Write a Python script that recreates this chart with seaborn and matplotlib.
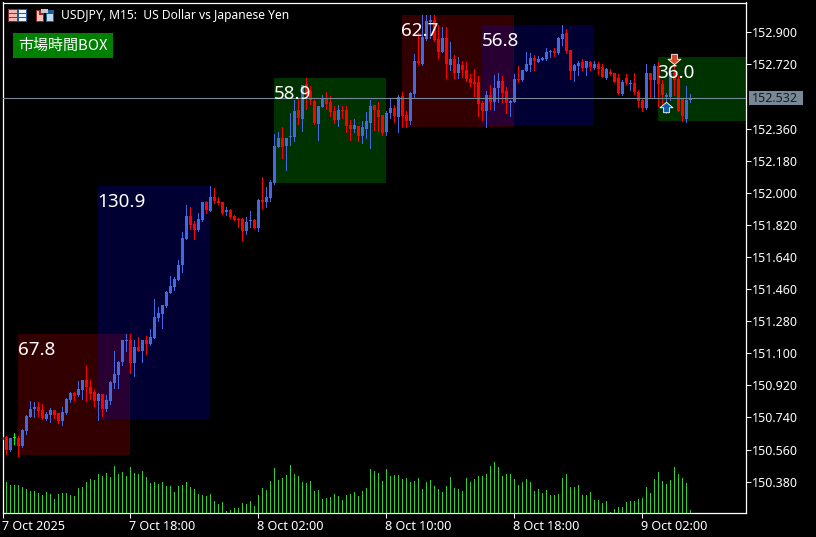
"""USDJPY M15 candle chart with session boxes, black MT5 style."""
import numpy as np
import pandas as pd
import matplotlib
matplotlib.use("Agg")
import matplotlib.pyplot as plt
import seaborn as sns
from matplotlib.patches import Rectangle
from matplotlib.path import Path
from matplotlib.transforms import IdentityTransform, ScaledTranslation

# --- values ---
HIGH = [150.630, 150.636, 150.625, 150.653, 150.636, 150.675, 150.754, 150.832, 150.827, 150.827,
        150.815, 150.770, 150.793, 150.782, 150.765, 150.799, 150.849, 150.883, 150.883, 150.944,
        150.950, 151.028, 150.950, 150.894, 150.877, 150.871, 150.866, 150.944, 151.112, 151.056,
        151.174, 151.208, 151.208, 151.174, 151.191, 151.174, 151.197, 151.236, 151.404, 151.359,
        151.370, 151.449, 151.533, 151.527, 151.623, 151.780, 151.931, 151.920, 151.841, 151.886,
        151.948, 151.954, 152.038, 152.026, 151.976, 151.948, 151.920, 151.909, 151.875, 151.858,
        151.858, 151.864, 151.897, 151.853, 151.965, 152.088, 152.032, 152.071, 152.329, 152.340,
        152.368, 152.307, 152.447, 152.520, 152.525, 152.604, 152.643, 152.598, 152.520, 152.486,
        152.548, 152.565, 152.542, 152.486, 152.492, 152.486, 152.486, 152.408, 152.413, 152.374,
        152.402, 152.452, 152.520, 152.492, 152.509, 152.436, 152.458, 152.531, 152.492, 152.548,
        152.565, 152.458, 152.565, 152.778, 152.895, 152.996, 152.996, 152.996, 152.996, 152.940,
        152.929, 152.929, 152.845, 152.772, 152.761, 152.739, 152.733, 152.666, 152.694, 152.654,
        152.514, 152.570, 152.604, 152.660, 152.671, 152.654, 152.593, 152.520, 152.666, 152.711,
        152.688, 152.789, 152.783, 152.772, 152.767, 152.761, 152.811, 152.800, 152.811, 152.873,
        152.940, 152.918, 152.800, 152.722, 152.739, 152.750, 152.739, 152.739, 152.739, 152.733,
        152.722, 152.699, 152.694, 152.671, 152.666, 152.632, 152.666, 152.632, 152.671, 152.576,
        152.531, 152.722, 152.671, 152.722, 152.733, 152.632, 152.559, 152.688, 152.711, 152.654,
        152.531, 152.598, 152.553]
LOW = [150.619, 150.535, 150.552, 150.591, 150.524, 150.574, 150.647, 150.742, 150.742, 150.748,
       150.731, 150.726, 150.714, 150.737, 150.709, 150.698, 150.759, 150.827, 150.838, 150.860,
       150.843, 150.832, 150.843, 150.804, 150.726, 150.748, 150.776, 150.815, 150.905, 150.905,
       151.034, 151.112, 150.989, 150.972, 151.112, 151.051, 151.096, 151.146, 151.185, 151.281,
       151.241, 151.359, 151.438, 151.454, 151.511, 151.555, 151.740, 151.796, 151.740, 151.785,
       151.841, 151.886, 151.897, 151.942, 151.937, 151.881, 151.875, 151.858, 151.847, 151.808,
       151.735, 151.769, 151.808, 151.802, 151.785, 151.914, 151.920, 151.954, 152.049, 152.256,
       152.195, 152.127, 152.267, 152.290, 152.385, 152.346, 152.469, 152.497, 152.385, 152.296,
       152.481, 152.469, 152.430, 152.391, 152.374, 152.419, 152.340, 152.296, 152.340, 152.290,
       152.279, 152.307, 152.251, 152.352, 152.346, 152.323, 152.323, 152.419, 152.396, 152.340,
       152.368, 152.368, 152.385, 152.531, 152.722, 152.716, 152.856, 152.867, 152.851, 152.755,
       152.789, 152.643, 152.688, 152.643, 152.643, 152.649, 152.626, 152.598, 152.542, 152.430,
       152.408, 152.368, 152.469, 152.464, 152.509, 152.509, 152.447, 152.430, 152.509, 152.621,
       152.626, 152.682, 152.682, 152.688, 152.733, 152.744, 152.744, 152.761, 152.767, 152.778,
       152.828, 152.783, 152.638, 152.626, 152.660, 152.688, 152.660, 152.688, 152.694, 152.666,
       152.649, 152.638, 152.660, 152.621, 152.553, 152.548, 152.610, 152.576, 152.553, 152.481,
       152.458, 152.469, 152.531, 152.531, 152.486, 152.486, 152.447, 152.520, 152.548, 152.458,
       152.402, 152.396, 152.509]
OPEN = [150.619, 150.630, 150.557, 150.625, 150.625, 150.580, 150.664, 150.742, 150.787, 150.799,
        150.782, 150.731, 150.754, 150.782, 150.765, 150.720, 150.765, 150.838, 150.877, 150.866,
        150.894, 150.950, 150.911, 150.883, 150.832, 150.871, 150.787, 150.832, 150.933, 150.978,
        151.051, 151.168, 151.174, 151.045, 151.135, 151.112, 151.174, 151.152, 151.185, 151.297,
        151.320, 151.365, 151.438, 151.471, 151.511, 151.595, 151.740, 151.869, 151.825, 151.791,
        151.847, 151.948, 151.897, 151.976, 151.954, 151.948, 151.892, 151.903, 151.869, 151.853,
        151.853, 151.785, 151.841, 151.847, 151.802, 151.959, 151.948, 151.970, 152.054, 152.256,
        152.307, 152.262, 152.312, 152.312, 152.464, 152.413, 152.610, 152.570, 152.514, 152.385,
        152.481, 152.531, 152.509, 152.458, 152.408, 152.464, 152.464, 152.380, 152.357, 152.374,
        152.318, 152.357, 152.391, 152.492, 152.464, 152.436, 152.340, 152.447, 152.475, 152.425,
        152.542, 152.436, 152.402, 152.553, 152.739, 152.722, 152.862, 152.957, 152.968, 152.862,
        152.789, 152.867, 152.716, 152.750, 152.671, 152.716, 152.688, 152.638, 152.621, 152.621,
        152.503, 152.458, 152.548, 152.509, 152.587, 152.626, 152.570, 152.503, 152.509, 152.638,
        152.632, 152.682, 152.716, 152.755, 152.733, 152.744, 152.750, 152.789, 152.795, 152.783,
        152.862, 152.895, 152.800, 152.682, 152.711, 152.733, 152.699, 152.733, 152.699, 152.722,
        152.705, 152.643, 152.677, 152.671, 152.643, 152.553, 152.643, 152.610, 152.615, 152.565,
        152.520, 152.475, 152.671, 152.632, 152.711, 152.610, 152.537, 152.537, 152.671, 152.638,
        152.531, 152.413, 152.520]
CLOSE = [150.630, 150.557, 150.625, 150.625, 150.580, 150.669, 150.748, 150.787, 150.799, 150.776,
         150.737, 150.759, 150.782, 150.754, 150.720, 150.770, 150.843, 150.877, 150.860, 150.899,
         150.950, 150.911, 150.871, 150.832, 150.871, 150.787, 150.838, 150.939, 150.983, 151.051,
         151.174, 151.174, 151.045, 151.135, 151.112, 151.174, 151.152, 151.191, 151.303, 151.326,
         151.370, 151.443, 151.477, 151.516, 151.595, 151.746, 151.869, 151.819, 151.791, 151.853,
         151.948, 151.903, 151.976, 151.954, 151.942, 151.886, 151.903, 151.864, 151.847, 151.847,
         151.785, 151.836, 151.847, 151.802, 151.959, 151.948, 151.976, 152.060, 152.262, 152.307,
         152.256, 152.307, 152.318, 152.458, 152.419, 152.604, 152.548, 152.520, 152.391, 152.486,
         152.531, 152.497, 152.452, 152.408, 152.464, 152.458, 152.374, 152.357, 152.380, 152.318,
         152.368, 152.402, 152.486, 152.464, 152.425, 152.335, 152.447, 152.475, 152.430, 152.537,
         152.430, 152.402, 152.559, 152.739, 152.727, 152.873, 152.963, 152.968, 152.856, 152.789,
         152.867, 152.722, 152.750, 152.671, 152.722, 152.688, 152.638, 152.615, 152.610, 152.497,
         152.458, 152.548, 152.509, 152.587, 152.626, 152.559, 152.503, 152.514, 152.638, 152.632,
         152.688, 152.722, 152.755, 152.739, 152.750, 152.755, 152.789, 152.795, 152.783, 152.867,
         152.890, 152.795, 152.682, 152.716, 152.727, 152.699, 152.739, 152.705, 152.722, 152.694,
         152.649, 152.694, 152.666, 152.621, 152.559, 152.621, 152.615, 152.615, 152.565, 152.514,
         152.475, 152.671, 152.632, 152.711, 152.610, 152.548, 152.548, 152.671, 152.632, 152.458,
         152.430, 152.520, 152.531]
VOLUME = [30, 31, 28, 28, 28, 26, 24, 22, 22, 20,
          18, 21, 19, 14, 19, 20, 20, 18, 17, 25,
          26, 31, 34, 33, 39, 37, 40, 36, 47, 39,
          41, 37, 46, 40, 39, 42, 36, 30, 31, 29,
          31, 27, 27, 21, 27, 28, 31, 26, 24, 19,
          18, 17, 19, 12, 9, 11, 2, 3, 5, 5,
          10, 9, 12, 7, 18, 25, 23, 32, 45, 33,
          35, 38, 48, 39, 37, 31, 30, 32, 22, 23,
          14, 15, 16, 19, 17, 13, 18, 19, 21, 17,
          22, 25, 44, 42, 40, 32, 44, 37, 38, 38,
          34, 35, 31, 32, 35, 24, 31, 33, 27, 24,
          21, 27, 36, 25, 24, 22, 35, 31, 34, 37,
          37, 39, 47, 51, 46, 37, 39, 39, 34, 28,
          31, 34, 31, 22, 24, 20, 23, 18, 18, 19,
          35, 39, 26, 26, 28, 18, 18, 21, 13, 13,
          10, 12, 1, 4, 6, 6, 11, 12, 12, 14,
          15, 26, 20, 34, 41, 32, 29, 33, 46, 39,
          35, 30, 3]

BOX_START = [4, 24, 68, 100, 120, 164]
BOX_END = [32, 52, 96, 128, 148, 192]
BOX_HIGH = [151.208, 152.038, 152.643, 152.996, 152.940, 152.761]
BOX_LOW = [150.529, 150.731, 152.054, 152.369, 152.372, 152.402]
BOX_LABEL = ["67.8", "130.9", "58.9", "62.7", "56.8", "36.0"]
BOX_COLOR = ["#ff0000", "#0000ff", "#00ff00", "#ff0000", "#0000ff", "#00ff00"]

PRICE_TICKS = [152.900, 152.720, 152.360, 152.180, 152.000, 151.820, 151.640,
               151.460, 151.280, 151.100, 150.920, 150.740, 150.560, 150.380]
TIME_TICKS = [0, 32, 64, 96, 128, 160]
TIME_LABELS = ["7 Oct 2025", "7 Oct 18:00", "8 Oct 02:00",
               "8 Oct 10:00", "8 Oct 18:00", "9 Oct 02:00"]
LAST_PRICE = 152.532
SELL_BAR, SELL_PRICE = 168, 152.750
BUY_BAR, BUY_PRICE = 166, 152.481

W, H = 816, 537
FG = "#ffffff"
GREY = "#778899"
UP, DOWN, DOJI = "#4169e1", "#ff0000", "#00ff00"
VOL_GREEN = "#32cd32"

sns.set_theme(style="dark", rc={"axes.facecolor": "black", "figure.facecolor": "black"})
plt.rcParams["font.family"] = ["Noto Sans", "DejaVu Sans"]


def px(x_px, y_px, w_px, h_px, color, **kw):
    """Rectangle on the figure in pixels, top-left origin."""
    return Rectangle((x_px, H - y_px - h_px), w_px, h_px, facecolor=color, edgecolor="none",
                     transform=IdentityTransform(), **kw)


def draw_title_icons(fig):
    cells = [(8, 9, 19, 13, "#8c2b2b"), (9, 10, 8, 11, "#f4b6b0"), (18, 9, 9, 13, "#1c5f9c"),
             (19, 10, 7, 11, "#eaf2fb"), (9, 13, 17, 1, "#1c5f9c"), (9, 17, 17, 1, "#1c5f9c"),
             (36, 10, 8, 12, "#8c2b2b"), (37, 15, 6, 6, "#f6c0b6"), (37, 11, 2, 4, "#f6c0b6"),
             (46, 10, 8, 12, "#1c5f9c"), (47, 14, 6, 7, "#bcdcf5"), (41, 9, 7, 4, "#c8c8c8")]
    for x, y, w, h, col in cells:
        fig.add_artist(px(x, y, w, h, col))


def draw_boxes(ax):
    for start, end, hi, lo, col, label in zip(BOX_START, BOX_END, BOX_HIGH, BOX_LOW,
                                              BOX_COLOR, BOX_LABEL):
        ax.add_patch(Rectangle((start, lo), end - start, hi - lo, facecolor=col, alpha=0.2,
                               edgecolor="none", zorder=1))
        ax.annotate(label, (start, hi), xytext=(-0.7, -11.5), textcoords="offset points",
                    color=FG, fontsize=13.6, va="center", ha="left", zorder=8)


def draw_candles(ax, df):
    colors = np.where(df.close > df.open, UP, np.where(df.close < df.open, DOWN, DOJI))
    ax.vlines(df.bar, df.low, df.high, colors=colors, linewidth=0.72, antialiased=False, zorder=3)
    bottom = df[["open", "close"]].min(axis=1)
    height = np.maximum((df.close - df.open).abs(), 0.006)
    ax.bar(df.bar, height, bottom=bottom, width=0.75, color=colors, linewidth=0,
           antialiased=False, zorder=4)


def main():
    df = pd.DataFrame({"open": OPEN, "high": HIGH, "low": LOW, "close": CLOSE, "volume": VOLUME})
    df["bar"] = np.arange(len(df))

    fig = plt.figure(figsize=(W / 100, H / 100), dpi=100)
    ax = fig.add_axes([2.5 / W, (H - 513) / H, (746 - 2.5) / W, (513 - 2.5) / H])
    ax_vol = ax.twinx()

    # volume bars share the time axis, scale only matters for their height
    sns.barplot(data=df, x="bar", y="volume", native_scale=True, width=0.35, color=VOL_GREEN,
                saturation=1, linewidth=0, antialiased=False, ax=ax_vol)
    ax_vol.set_ylim(0, 510.5)
    ax_vol.set_yticks([])
    ax_vol.set_ylabel("")
    ax_vol.patch.set_visible(False)
    for sp in ax_vol.spines.values():
        sp.set_visible(False)

    draw_boxes(ax)
    draw_candles(ax, df)
    ax.axhline(LAST_PRICE, color=GREY, linewidth=0.8, zorder=5)

    down_arrow = Path([(-0.22, 0.4), (0.22, 0.4), (0.22, 0.02), (0.5, 0.02), (0, -0.4),
                       (-0.5, 0.02), (-0.22, 0.02), (-0.22, 0.4)], closed=True)
    up_arrow = Path([(-0.22, -0.4), (0.22, -0.4), (0.22, -0.02), (0.5, -0.02), (0, 0.4),
                     (-0.5, -0.02), (-0.22, -0.02), (-0.22, -0.4)], closed=True)
    sns.scatterplot(x=[SELL_BAR], y=[SELL_PRICE], marker=down_arrow, s=88, color="#d9472b",
                    edgecolor=FG, linewidth=0.6, zorder=7, ax=ax)
    sns.scatterplot(x=[BUY_BAR], y=[BUY_PRICE], marker=up_arrow, s=88, color="#0a5fb4",
                    edgecolor=FG, linewidth=0.6, zorder=7, ax=ax)

    # pixel x = 2.33 + 4 * bar, price scale 32.1 px per 0.18
    ax.set_xlim((2.5 - 2.33) / 4, (746 - 2.33) / 4)
    ax.set_ylim(153.0805 - 0.005607 * 513, 153.0805 - 0.005607 * 2.5)
    ax.set_xlabel("")
    ax.set_ylabel("")

    ax.yaxis.tick_right()
    ax.set_yticks(PRICE_TICKS, [f"{p:.3f}" for p in PRICE_TICKS])
    ax.set_xticks(TIME_TICKS, TIME_LABELS, ha="left")
    ax.tick_params(axis="y", which="major", right=True, length=3.6, width=0.72, color=FG,
                   labelcolor=FG, labelsize=9, pad=1)
    ax.tick_params(axis="x", which="major", bottom=True, length=3.6, width=0.72, color=FG,
                   labelcolor=FG, labelsize=9.1, pad=1.5)
    nudge = ScaledTranslation(-1 / 100, 0, fig.dpi_scale_trans)
    for label in ax.get_xticklabels():
        label.set_transform(label.get_transform() + nudge)
    ax.grid(False)
    ax_vol.grid(False)
    for sp in ax.spines.values():
        sp.set_visible(True)
        sp.set_color(FG)
        sp.set_linewidth(0.9)

    # last price tag on the scale
    fig.add_artist(px(749, 91, 54, 14, GREY))
    fig.text(752 / W, 1 - 98.5 / H, f"{LAST_PRICE:.3f}", color="#1a1a1a", fontsize=9,
             va="center", ha="left")

    # header
    draw_title_icons(fig)
    fig.text(61 / W, 1 - 16 / H, "USDJPY, M15:  US Dollar vs Japanese Yen", color=FG,
             fontsize=8.7, va="center", ha="left")
    fig.add_artist(px(13, 33, 100, 25, "#008000"))
    fig.text(63 / W, 1 - 45.5 / H, "市場時間BOX", color=FG, fontsize=10.8, va="center", ha="center",
             family=["Noto Sans CJK JP", "DejaVu Sans"])

    fig.savefig("out.png", dpi=100, facecolor="black")
    plt.close(fig)


if __name__ == "__main__":
    main()
